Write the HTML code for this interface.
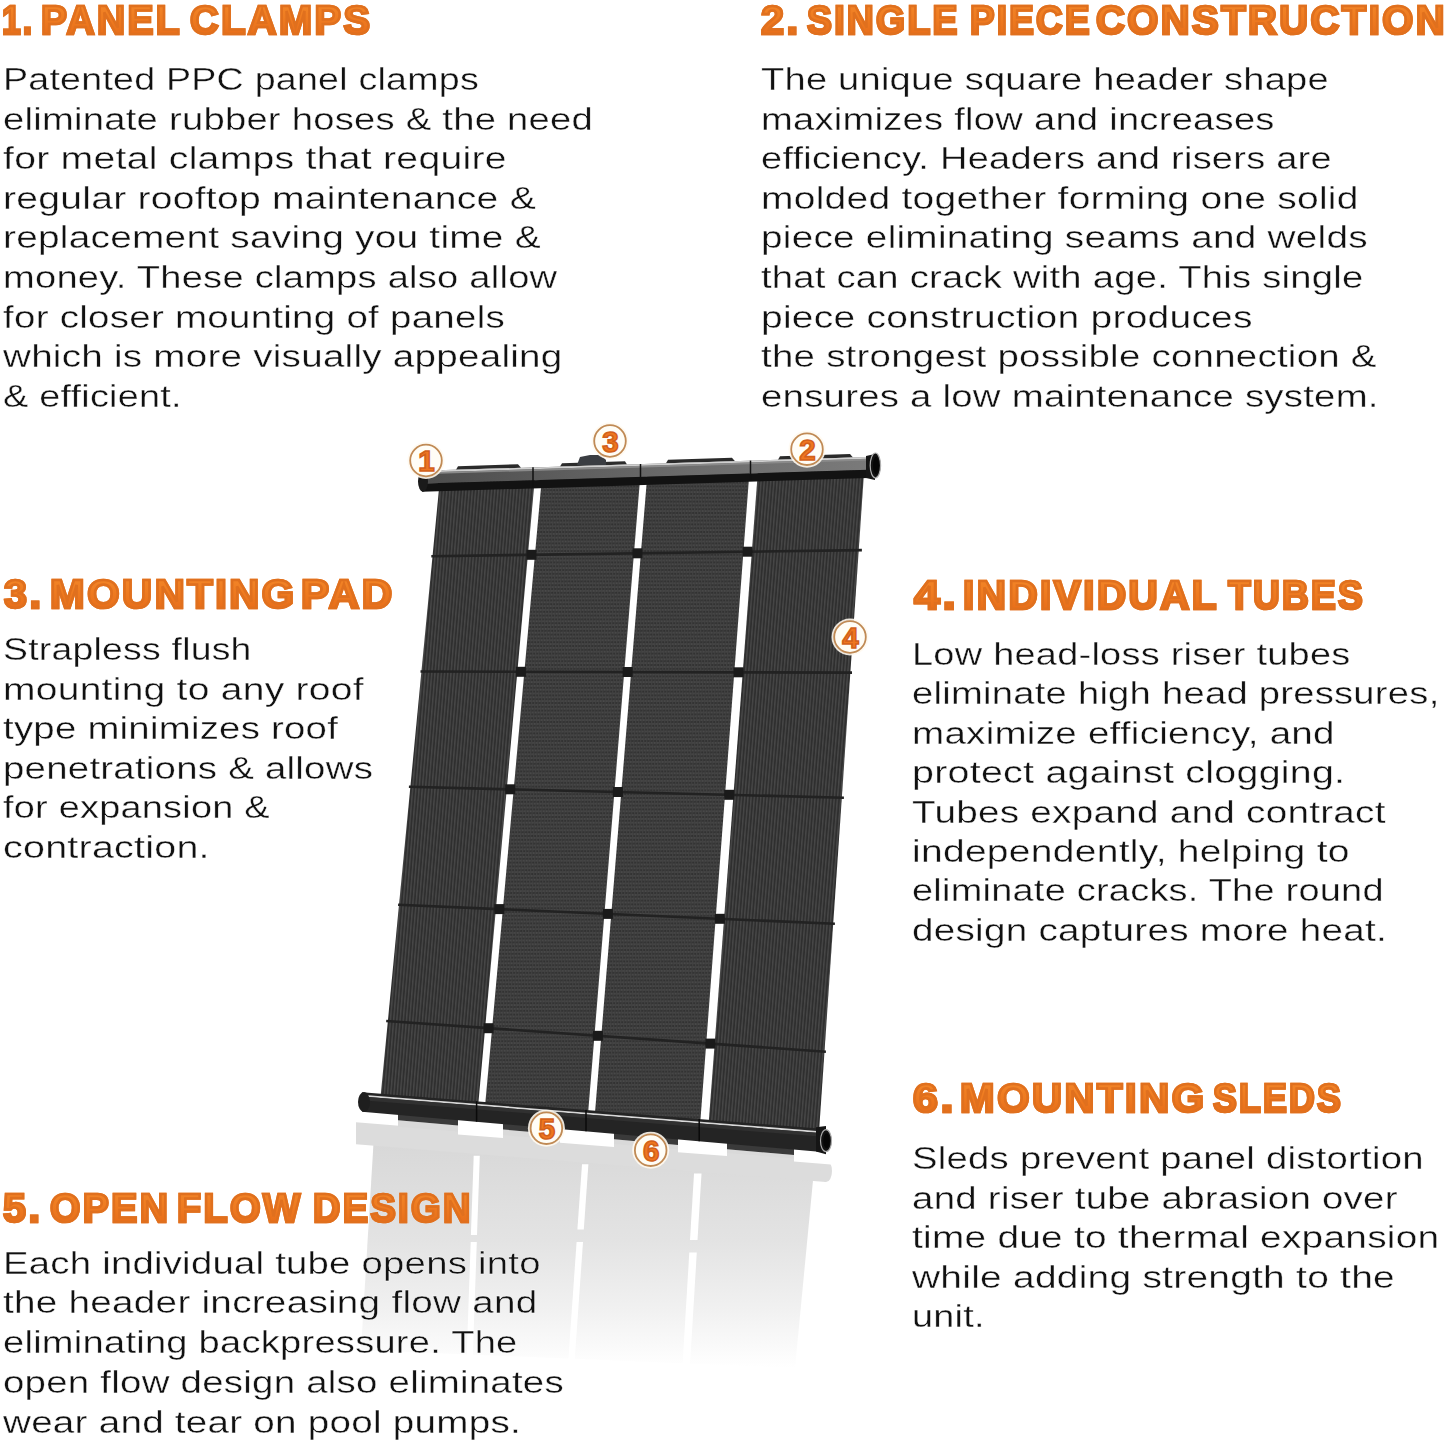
<!DOCTYPE html>
<html><head><meta charset="utf-8">
<style>
html,body{margin:0;padding:0;background:#fff;}
body{width:1445px;height:1443px;position:relative;overflow:hidden;}
.b,.h{position:absolute;white-space:nowrap;transform-origin:0 0;font-family:"Liberation Sans",sans-serif;}
.b{font-size:31px;line-height:31px;letter-spacing:0.2px;color:#111;-webkit-text-stroke:0.35px #fff;}
.h{font-size:40px;line-height:40px;font-weight:bold;letter-spacing:2.5px;color:#eb7420;
 background:linear-gradient(180deg,#f3882a 0%,#ee7a20 50%,#e56a18 100%);-webkit-background-clip:text;background-clip:text;-webkit-text-fill-color:transparent;
 -webkit-text-stroke:2.6px #e0701e;}
svg{position:absolute;left:0;top:0;}
</style></head><body>
<svg width="1445" height="1443" viewBox="0 0 1445 1443">
<defs>
<linearGradient id="refl2" gradientUnits="userSpaceOnUse" x1="0" y1="1135" x2="0" y2="1368"><stop offset="0" stop-color="#d7d7d7"/><stop offset="0.45" stop-color="#e3e3e3"/><stop offset="0.75" stop-color="#f1f1f1"/><stop offset="1" stop-color="#ffffff"/></linearGradient>
<linearGradient id="hgray" gradientUnits="userSpaceOnUse" x1="420" y1="0" x2="870" y2="0">
<stop offset="0" stop-color="#4c4c4c"/><stop offset="0.6" stop-color="#6c6c6c"/><stop offset="1" stop-color="#7a7a7a"/>
</linearGradient>
<pattern id="stripes" patternUnits="userSpaceOnUse" width="3.2" height="40" patternTransform="skewX(-4.7)">
<rect width="3.2" height="40" fill="#2f2f2f"/><rect x="0" width="1.4" height="40" fill="#474747"/>
</pattern>
<pattern id="weave" patternUnits="userSpaceOnUse" width="3.2" height="3.8" patternTransform="skewX(-4.7)">
<rect width="3.2" height="3.8" fill="#303030"/><rect x="0" width="1.1" height="3.8" fill="#424242"/><ellipse cx="2.15" cy="1.9" rx="0.9" ry="1.3" fill="#4a4a4a"/>
</pattern>
</defs>
<polygon points="374.0,1135.0 814.0,1170.0 795.0,1368.0 361.0,1350.0" fill="url(#refl2)"/>
<polygon points="356.0,1122.3 826.0,1160.1 826.0,1182.1 356.0,1144.3" fill="#dcdcdc"/>
<ellipse cx="826" cy="1171.1" rx="6" ry="11" fill="#dcdcdc"/>
<polygon points="398.0,1120.2 458.0,1125.5 458.0,1131.5 398.0,1126.7" fill="#d9d9d9"/>
<polygon points="503.0,1129.5 560.0,1134.5 560.0,1139.7 503.0,1135.1" fill="#d9d9d9"/>
<polygon points="614.0,1139.2 678.0,1144.9 678.0,1149.2 614.0,1144.0" fill="#d9d9d9"/>
<polygon points="727.0,1149.2 794.0,1155.1 794.0,1158.5 727.0,1153.1" fill="#d9d9d9"/>
<polygon points="458.0,1120.1 503.0,1124.0 503.0,1138.1 458.0,1134.5" fill="#ffffff"/>
<polygon points="560.0,1129.0 614.0,1133.8 614.0,1147.0 560.0,1142.7" fill="#ffffff"/>
<polygon points="678.0,1139.4 727.0,1143.6 727.0,1156.1 678.0,1152.2" fill="#ffffff"/>
<polygon points="794.0,1149.5 840.0,1153.5 840.0,1165.2 794.0,1161.5" fill="#ffffff"/>
<polygon points="473.7,1155.7 479.8,1155.7 477.0,1235.0 470.9,1235.0" fill="#ffffff"/>
<polygon points="470.7,1242.0 476.8,1242.0 472.3,1370.0 466.2,1370.0" fill="#ffffff"/>
<polygon points="582.0,1164.3 588.4,1164.3 583.8,1229.6 577.4,1229.6" fill="#ffffff"/>
<polygon points="576.6,1242.0 583.0,1242.0 574.0,1370.0 567.6,1370.0" fill="#ffffff"/>
<polygon points="694.0,1173.6 701.5,1173.6 697.5,1240.0 690.0,1240.0" fill="#ffffff"/>
<polygon points="689.3,1252.5 696.8,1252.5 689.7,1370.0 682.2,1370.0" fill="#ffffff"/>
<polygon points="440.8,470.0 864.2,470.0 818.7,1136.5 380.1,1101.6" fill="url(#stripes)"/>
<polygon points="542.6,470.0 640.8,470.0 587.7,1118.1 484.7,1110.0" fill="url(#weave)"/>
<polygon points="647.7,470.0 749.6,470.0 699.9,1127.1 594.5,1118.7" fill="url(#weave)"/>
<polygon points="535.6,470.0 542.6,470.0 484.7,1110.0 477.8,1109.4" fill="#ffffff"/>
<polygon points="640.8,470.0 647.7,470.0 594.5,1118.7 587.7,1118.1" fill="#ffffff"/>
<polygon points="749.6,470.0 758.0,470.0 708.3,1127.7 699.9,1127.1" fill="#ffffff"/>
<line x1="431.3" y1="556.2" x2="861.9" y2="550.1" stroke="#222" stroke-width="2.6"/>
<rect x="526.5" y="549.8" width="10" height="10" fill="#1a1a1a"/>
<rect x="632.5" y="548.3" width="10" height="10" fill="#1a1a1a"/>
<rect x="742.6" y="546.7" width="10" height="10" fill="#1a1a1a"/>
<line x1="420.5" y1="671.5" x2="852" y2="672.6" stroke="#222" stroke-width="2.6"/>
<rect x="515.9" y="666.8" width="10" height="10" fill="#1a1a1a"/>
<rect x="622.7" y="667.0" width="10" height="10" fill="#1a1a1a"/>
<rect x="733.5" y="667.3" width="10" height="10" fill="#1a1a1a"/>
<line x1="408.9" y1="786.8" x2="843.9" y2="797.7" stroke="#222" stroke-width="2.6"/>
<rect x="505.2" y="784.3" width="10" height="10" fill="#1a1a1a"/>
<rect x="612.9" y="787.0" width="10" height="10" fill="#1a1a1a"/>
<rect x="724.2" y="789.8" width="10" height="10" fill="#1a1a1a"/>
<line x1="398.1" y1="904.7" x2="834.9" y2="923.8" stroke="#222" stroke-width="2.6"/>
<rect x="494.4" y="904.1" width="10" height="10" fill="#1a1a1a"/>
<rect x="602.9" y="908.9" width="10" height="10" fill="#1a1a1a"/>
<rect x="714.9" y="913.8" width="10" height="10" fill="#1a1a1a"/>
<line x1="386.2" y1="1021" x2="825.9" y2="1051.7" stroke="#222" stroke-width="2.6"/>
<rect x="483.6" y="1023.2" width="10" height="10" fill="#1a1a1a"/>
<rect x="592.9" y="1030.8" width="10" height="10" fill="#1a1a1a"/>
<rect x="705.4" y="1038.6" width="10" height="10" fill="#1a1a1a"/>
<polygon points="398.0,1110.1 458.0,1114.8 458.0,1125.5 398.0,1120.2" fill="#3a3a3a"/>
<polygon points="503.0,1118.4 560.0,1122.9 560.0,1134.5 503.0,1129.5" fill="#3a3a3a"/>
<polygon points="614.0,1127.2 678.0,1132.3 678.0,1144.9 614.0,1139.2" fill="#3a3a3a"/>
<polygon points="727.0,1136.2 794.0,1141.5 794.0,1155.1 727.0,1149.2" fill="#3a3a3a"/>
<polygon points="362.0,1092.2 822.0,1128.8 822.0,1152.0 362.0,1111.7" fill="#242424"/>
<polygon points="362.0,1094.8 820.0,1131.2 820.0,1133.0 362.0,1096.6" fill="#d8d8d8"/>
<polygon points="362.0,1096.6 820.0,1133.0 820.0,1136.6 362.0,1100.2" fill="#303030"/>
<ellipse cx="364" cy="1102.0" rx="6" ry="10" fill="#1e1e1e"/>
<polygon points="816,1127.3 826,1126.1 826,1154.3 816,1151.4" fill="#151515"/>
<ellipse cx="826" cy="1140.7" rx="5.5" ry="11" fill="#111" stroke="#aaaaaa" stroke-width="1.2"/>
<ellipse cx="826.5" cy="1140.7" rx="3.2" ry="7.5" fill="#050505"/>
<line x1="476.6" y1="1101.3107" x2="476.6" y2="1121.7275" stroke="#0a0a0a" stroke-width="1.5"/>
<line x1="586" y1="1110.008" x2="586" y2="1131.3" stroke="#0a0a0a" stroke-width="1.5"/>
<line x1="699.2" y1="1119.0074" x2="699.2" y2="1141.205" stroke="#0a0a0a" stroke-width="1.5"/>
<polygon points="458.0,466.2 518.0,464.3 521.0,467.8 456.0,469.7" fill="#2a2a2a"/>
<polygon points="668.0,459.7 732.0,457.7 735.0,461.2 666.0,463.2" fill="#2a2a2a"/>
<polygon points="780.0,456.2 850.0,454.0 853.0,457.5 778.0,459.7" fill="#2a2a2a"/>
<polygon points="562,463.3 625,461.3 627,464.4 560,466.5" fill="#2c2c2c"/>
<polygon points="577,465 580,457 590,455 601,455 606,460 606,465" fill="#3a3d42"/>
<polygon points="422.0,470.8 868.0,457.0 868.0,470.0 422.0,483.8" fill="url(#hgray)"/>
<polygon points="422.0,470.8 868.0,457.0 868.0,458.8 422.0,472.6" fill="#d0d0d0"/>
<polygon points="422.0,472.6 868.0,458.8 868.0,460.5 422.0,474.3" fill="#8a8a8a"/>
<polygon points="422.0,483.6 868.0,469.8 868.0,478.0 422.0,491.8" fill="#121212"/>
<ellipse cx="423" cy="481.3" rx="5" ry="10.5" fill="#1a1a1a"/>
<polygon points="866,456.0 875,454.0 875,480.0 866,478.0" fill="#151515"/>
<ellipse cx="875.4" cy="465.5" rx="5.2" ry="12.5" fill="#111" stroke="#b0b0b0" stroke-width="1.2"/>
<ellipse cx="876" cy="465.5" rx="3" ry="9" fill="#050505"/>
<line x1="533" y1="467.357" x2="533" y2="487.357" stroke="#111" stroke-width="1.5"/>
<line x1="640.5" y1="464.0245" x2="640.5" y2="484.0245" stroke="#111" stroke-width="1.5"/>
<line x1="750.5" y1="460.6145" x2="750.5" y2="480.6145" stroke="#111" stroke-width="1.5"/>
<circle cx="426" cy="460.5" r="18.5" fill="#fffaf0" opacity="0.9"/>
<circle cx="426" cy="460.5" r="15.8" fill="#fffdf6" stroke="#c08a55" stroke-width="1.8"/>
<text x="426.5" y="471.3" text-anchor="middle" font-family="Liberation Sans" font-weight="bold" font-size="29.5" fill="#ef7620" stroke="#d2601a" stroke-width="1.6">1</text>
<circle cx="807" cy="449.2" r="18.5" fill="#fffaf0" opacity="0.9"/>
<circle cx="807" cy="449.2" r="15.8" fill="#fffdf6" stroke="#c08a55" stroke-width="1.8"/>
<text x="807.5" y="460.0" text-anchor="middle" font-family="Liberation Sans" font-weight="bold" font-size="29.5" fill="#ef7620" stroke="#d2601a" stroke-width="1.6">2</text>
<circle cx="610" cy="441" r="18.5" fill="#fffaf0" opacity="0.9"/>
<circle cx="610" cy="441" r="15.8" fill="#fffdf6" stroke="#c08a55" stroke-width="1.8"/>
<text x="610.5" y="451.8" text-anchor="middle" font-family="Liberation Sans" font-weight="bold" font-size="29.5" fill="#ef7620" stroke="#d2601a" stroke-width="1.6">3</text>
<circle cx="850" cy="637" r="18.5" fill="#fffaf0" opacity="0.9"/>
<circle cx="850" cy="637" r="15.8" fill="#fffdf6" stroke="#c08a55" stroke-width="1.8"/>
<text x="850.5" y="647.8" text-anchor="middle" font-family="Liberation Sans" font-weight="bold" font-size="29.5" fill="#ef7620" stroke="#d2601a" stroke-width="1.6">4</text>
<circle cx="546.4" cy="1128.2" r="18.5" fill="#fffaf0" opacity="0.9"/>
<circle cx="546.4" cy="1128.2" r="15.8" fill="#fffdf6" stroke="#c08a55" stroke-width="1.8"/>
<text x="546.9" y="1139.0" text-anchor="middle" font-family="Liberation Sans" font-weight="bold" font-size="29.5" fill="#ef7620" stroke="#d2601a" stroke-width="1.6">5</text>
<circle cx="650.7" cy="1150.2" r="18.5" fill="#fffaf0" opacity="0.9"/>
<circle cx="650.7" cy="1150.2" r="15.8" fill="#fffdf6" stroke="#c08a55" stroke-width="1.8"/>
<text x="651.2" y="1161.0" text-anchor="middle" font-family="Liberation Sans" font-weight="bold" font-size="29.5" fill="#ef7620" stroke="#d2601a" stroke-width="1.6">6</text>
</svg>
<div class="h" style="left:2.0px;top:0.0px;transform:scaleX(0.8412)">1.</div>
<div class="h" style="left:40.5px;top:0.0px;transform:scaleX(0.9718)">PANEL</div>
<div class="h" style="left:189.6px;top:0.0px;transform:scaleX(0.9923)">CLAMPS</div>
<div class="h" style="left:760.9px;top:0.0px;transform:scaleX(1.0314)">2.</div>
<div class="h" style="left:806.9px;top:0.0px;transform:scaleX(0.9317)">SINGLE</div>
<div class="h" style="left:969.5px;top:0.0px;transform:scaleX(0.9186)">PIECE</div>
<div class="h" style="left:1096.2px;top:0.0px;transform:scaleX(0.9966)">CONSTRUCTION</div>
<div class="h" style="left:3.8px;top:574.0px;transform:scaleX(1.0278)">3.</div>
<div class="h" style="left:50.2px;top:574.0px;transform:scaleX(1.0378)">MOUNTING</div>
<div class="h" style="left:300.6px;top:574.0px;transform:scaleX(1.0541)">PAD</div>
<div class="h" style="left:914.3px;top:575.0px;transform:scaleX(1.1583)">4.</div>
<div class="h" style="left:962.6px;top:575.0px;transform:scaleX(1.0084)">INDIVIDUAL</div>
<div class="h" style="left:1227.9px;top:575.0px;transform:scaleX(0.9252)">TUBES</div>
<div class="h" style="left:3.3px;top:1188.0px;transform:scaleX(1.0257)">5.</div>
<div class="h" style="left:49.8px;top:1188.0px;transform:scaleX(0.9767)">OPEN</div>
<div class="h" style="left:176.7px;top:1188.0px;transform:scaleX(0.9833)">FLOW</div>
<div class="h" style="left:313.0px;top:1188.0px;transform:scaleX(0.9482)">DESIGN</div>
<div class="h" style="left:912.6px;top:1078.0px;transform:scaleX(1.1171)">6.</div>
<div class="h" style="left:960.3px;top:1078.0px;transform:scaleX(1.0369)">MOUNTING</div>
<div class="h" style="left:1212.5px;top:1078.0px;transform:scaleX(0.8916)">SLEDS</div>
<div class="b" style="left:2.8px;top:64.0px;transform:scaleX(1.2118)">Patented PPC panel clamps</div>
<div class="b" style="left:2.8px;top:103.6px;transform:scaleX(1.2322)">eliminate rubber hoses &amp; the need</div>
<div class="b" style="left:2.8px;top:143.2px;transform:scaleX(1.2638)">for metal clamps that require</div>
<div class="b" style="left:2.8px;top:182.8px;transform:scaleX(1.2606)">regular rooftop maintenance &amp;</div>
<div class="b" style="left:2.8px;top:222.4px;transform:scaleX(1.2517)">replacement saving you time &amp;</div>
<div class="b" style="left:2.8px;top:262.0px;transform:scaleX(1.2289)">money. These clamps also allow</div>
<div class="b" style="left:2.8px;top:301.6px;transform:scaleX(1.2432)">for closer mounting of panels</div>
<div class="b" style="left:2.8px;top:341.2px;transform:scaleX(1.2455)">which is more visually appealing</div>
<div class="b" style="left:2.8px;top:380.8px;transform:scaleX(1.2193)">&amp; efficient.</div>
<div class="b" style="left:760.8px;top:64.0px;transform:scaleX(1.2273)">The unique square header shape</div>
<div class="b" style="left:760.8px;top:103.6px;transform:scaleX(1.2308)">maximizes flow and increases</div>
<div class="b" style="left:760.8px;top:143.2px;transform:scaleX(1.2258)">efficiency. Headers and risers are</div>
<div class="b" style="left:760.8px;top:182.8px;transform:scaleX(1.2574)">molded together forming one solid</div>
<div class="b" style="left:760.8px;top:222.4px;transform:scaleX(1.2495)">piece eliminating seams and welds</div>
<div class="b" style="left:760.8px;top:262.0px;transform:scaleX(1.2316)">that can crack with age. This single</div>
<div class="b" style="left:760.8px;top:301.6px;transform:scaleX(1.2564)">piece construction produces</div>
<div class="b" style="left:760.8px;top:341.2px;transform:scaleX(1.2404)">the strongest possible connection &amp;</div>
<div class="b" style="left:760.8px;top:380.8px;transform:scaleX(1.2370)">ensures a low maintenance system.</div>
<div class="b" style="left:2.8px;top:634.0px;transform:scaleX(1.2051)">Strapless flush</div>
<div class="b" style="left:2.8px;top:673.6px;transform:scaleX(1.2587)">mounting to any roof</div>
<div class="b" style="left:2.8px;top:713.2px;transform:scaleX(1.2371)">type minimizes roof</div>
<div class="b" style="left:2.8px;top:752.8px;transform:scaleX(1.2383)">penetrations &amp; allows</div>
<div class="b" style="left:2.8px;top:792.4px;transform:scaleX(1.2213)">for expansion &amp;</div>
<div class="b" style="left:2.8px;top:832.0px;transform:scaleX(1.2715)">contraction.</div>
<div class="b" style="left:911.8px;top:639.0px;transform:scaleX(1.2241)">Low head-loss riser tubes</div>
<div class="b" style="left:911.8px;top:678.4px;transform:scaleX(1.2319)">eliminate high head pressures,</div>
<div class="b" style="left:911.8px;top:717.8px;transform:scaleX(1.2448)">maximize efficiency, and</div>
<div class="b" style="left:911.8px;top:757.2px;transform:scaleX(1.2705)">protect against clogging.</div>
<div class="b" style="left:911.8px;top:796.6px;transform:scaleX(1.2480)">Tubes expand and contract</div>
<div class="b" style="left:911.8px;top:836.0px;transform:scaleX(1.2601)">independently, helping to</div>
<div class="b" style="left:911.8px;top:875.4px;transform:scaleX(1.2234)">eliminate cracks. The round</div>
<div class="b" style="left:911.8px;top:914.8px;transform:scaleX(1.2474)">design captures more heat.</div>
<div class="b" style="left:2.8px;top:1247.6px;transform:scaleX(1.2351)">Each individual tube opens into</div>
<div class="b" style="left:2.8px;top:1287.4px;transform:scaleX(1.2482)">the header increasing flow and</div>
<div class="b" style="left:2.8px;top:1327.2px;transform:scaleX(1.2287)">eliminating backpressure. The</div>
<div class="b" style="left:2.8px;top:1367.0px;transform:scaleX(1.2390)">open flow design also eliminates</div>
<div class="b" style="left:2.8px;top:1406.8px;transform:scaleX(1.2458)">wear and tear on pool pumps.</div>
<div class="b" style="left:911.8px;top:1143.4px;transform:scaleX(1.2349)">Sleds prevent panel distortion</div>
<div class="b" style="left:911.8px;top:1182.8px;transform:scaleX(1.2404)">and riser tube abrasion over</div>
<div class="b" style="left:911.8px;top:1222.2px;transform:scaleX(1.2524)">time due to thermal expansion</div>
<div class="b" style="left:911.8px;top:1261.6px;transform:scaleX(1.2552)">while adding strength to the</div>
<div class="b" style="left:911.8px;top:1301.0px;transform:scaleX(1.2207)">unit.</div>
</body></html>
